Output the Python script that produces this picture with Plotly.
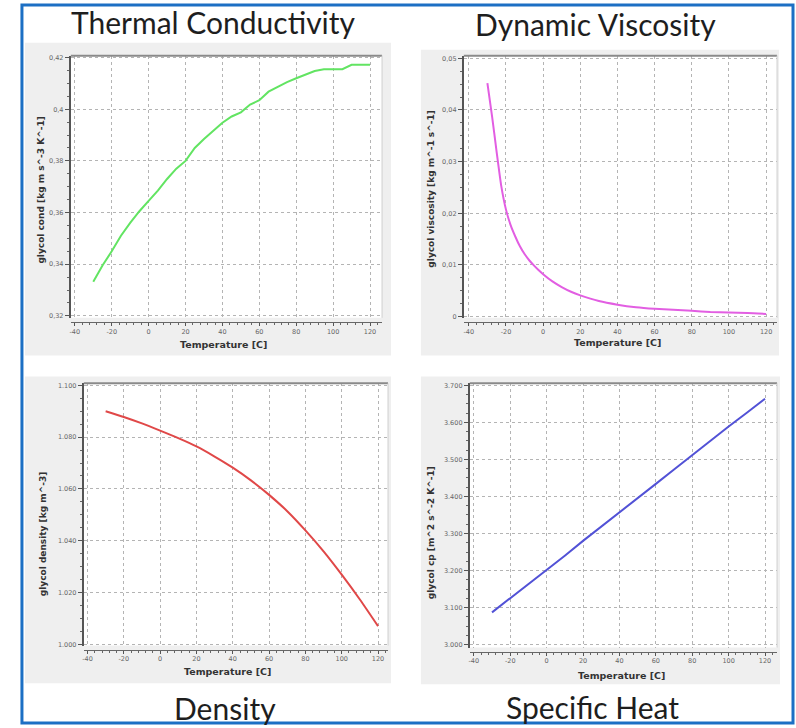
import plotly.graph_objects as go

W, H = 796, 728

# ---------------- data ----------------
TC_TEMP = [-30, -25, -20, -15, -10, -5, 0, 5, 10, 15, 20, 25, 30, 35, 40, 45, 50,
           55, 60, 65, 70, 75, 80, 85, 90, 95, 100, 105, 110, 115, 120]
TC_VALUE = [0.3332, 0.3395, 0.3450, 0.3510, 0.3560, 0.3605, 0.3645, 0.3685, 0.3730,
            0.3770, 0.3800, 0.3850, 0.3885, 0.3915, 0.3948, 0.3972, 0.3988, 0.4018,
            0.4035, 0.4068, 0.4088, 0.4105, 0.4120, 0.4135, 0.4148, 0.4155, 0.4155,
            0.4155, 0.4172, 0.4172, 0.4172]

VISC_TEMP = [-30, -27.5, -25, -22.5, -20, -17.5, -15, -12.5, -10, -7.5, -5, -2.5, 0,
             5, 10, 15, 20, 30, 40, 50, 60, 70, 80, 90, 100, 110, 120]
VISC_VALUE = [0.0452, 0.0388, 0.0318, 0.0252, 0.0207, 0.0177, 0.0155, 0.0136, 0.0121,
              0.0109, 0.0099, 0.0090, 0.0082, 0.0068, 0.0057, 0.0048, 0.0041, 0.0030,
              0.0023, 0.0018, 0.0015, 0.0013, 0.0011, 0.0009, 0.0008, 0.0007, 0.0005]

DENS_TEMP = [-30, -20, -10, 0, 10, 20, 30, 40, 50, 60, 70, 80, 90, 100, 110, 120]
DENS_VALUE = [1090.0, 1087.8, 1085.3, 1082.5, 1079.6, 1076.4, 1072.5, 1068.2, 1063.3,
              1057.7, 1051.4, 1044.0, 1035.9, 1026.9, 1017.3, 1007.0]

CP_TEMP = [-30, -20, -10, 0, 10, 20, 30, 40, 50, 60, 70, 80, 90, 100, 110, 120]
CP_VALUE = [3087, 3125, 3164, 3202, 3240, 3280, 3318, 3357, 3395, 3434, 3473, 3512,
            3550, 3589, 3626, 3664]

X_TICKS = [-40, -20, 0, 20, 40, 60, 80, 100, 120]
X_TICK_LABELS = ["-40", "-20", "0", "20", "40", "60", "80", "100", "120"]
TC_TICKS = [0.32, 0.34, 0.36, 0.38, 0.40, 0.42]
TC_TICK_LABELS = ["0,32", "0,34", "0,36", "0,38", "0,4", "0,42"]
VISC_TICKS = [0, 0.01, 0.02, 0.03, 0.04, 0.05]
VISC_TICK_LABELS = ["0", "0,01", "0,02", "0,03", "0,04", "0,05"]
DENS_TICKS = [1000, 1020, 1040, 1060, 1080, 1100]
DENS_TICK_LABELS = ["1.000", "1.020", "1.040", "1.060", "1.080", "1.100"]
CP_TICKS = [3000, 3100, 3200, 3300, 3400, 3500, 3600, 3700]
CP_TICK_LABELS = ["3.000", "3.100", "3.200", "3.300", "3.400", "3.500", "3.600", "3.700"]

TITLES = ["Thermal Conductivity", "Dynamic Viscosity", "Density", "Specific Heat"]
Y_TITLES = ["glycol cond [kg m s^-3 K^-1]", "glycol viscosity [kg m^-1 s^-1]",
            "glycol density [kg m^-3]", "glycol cp [m^2 s^-2 K^-1]"]
X_TITLE = "Temperature [C]"

# ---------------- layout helpers ----------------
def fx(px):
    return px / W


def fy(py):
    return 1 - py / H


series = [
    (TC_TEMP, TC_VALUE, "#62e462", TC_TICKS, TC_TICK_LABELS, 0.005, "linear"),
    (VISC_TEMP, VISC_VALUE, "#e25ee2", VISC_TICKS, VISC_TICK_LABELS, 0.0025, "spline"),
    (DENS_TEMP, DENS_VALUE, "#e04848", DENS_TICKS, DENS_TICK_LABELS, 5, "spline"),
    (CP_TEMP, CP_VALUE, "#5252d6", CP_TICKS, CP_TICK_LABELS, 25, "linear"),
]

# pixel geometry of each panel
panels = [
    dict(frame=(69, 381, 54, 318), xline=322, xr=(-42.16, 126.5), yr=(0.31923, 0.42077),
         bg=(23, 390, 41, 356), title=(212, 20), ytitle=(39, 189), xtitle=(222, 345)),
    dict(frame=(463, 777, 54, 318), xline=322, xr=(-42.68, 125.9), yr=(-0.00025, 0.05052),
         bg=(420, 779, 48, 356), title=(595, 22), ytitle=(430, 188), xtitle=(617, 343)),
    dict(frame=(82, 387, 384, 648), xline=652, xr=(-42.03, 125.5), yr=(999.5, 1100.77),
         bg=(23, 390, 377, 686), title=(224, 711), ytitle=(41, 535), xtitle=(226, 674)),
    dict(frame=(469, 777, 384, 650), xline=654, xr=(-42.19, 126.6), yr=(2992.0, 3705.4),
         bg=(420, 780, 377, 687), title=(592, 710), ytitle=(430, 534), xtitle=(621, 678)),
]

fig = go.Figure()
shapes = []
annotations = []
layout = {}

TICK_FONT = dict(family="DejaVu Sans", size=6.5, color="#666666")

for i, ((xs, ys, color, yt, ytl, ymin, shape), p) in enumerate(zip(series, panels), start=1):
    sfx = "" if i == 1 else str(i)
    fig.add_trace(go.Scatter(x=xs, y=ys, mode="lines",
                             line=dict(color=color, width=2, shape=shape, smoothing=0.6),
                             xaxis="x" + sfx, yaxis="y" + sfx, showlegend=False,
                             hoverinfo="x+y"))
    l, r, t, b = p["frame"]
    layout["xaxis" + sfx] = dict(
        domain=[fx(l), fx(r)], range=list(p["xr"]), anchor="free", position=fy(p["xline"]),
        tickmode="array", tickvals=X_TICKS, ticktext=X_TICK_LABELS,
        showgrid=True, gridcolor="#b4b4b4", griddash="dot", gridwidth=1,
        zeroline=False, showline=True, linecolor="#666666", linewidth=1,
        ticks="outside", ticklen=3, tickcolor="#555555", tickfont=TICK_FONT,
        minor=dict(tickmode="linear", tick0=-40, dtick=4, ticks="outside", ticklen=2,
                   tickcolor="#666666", showgrid=False),
        fixedrange=True,
    )
    layout["yaxis" + sfx] = dict(
        domain=[fy(b), fy(t)], range=list(p["yr"]), anchor="x" + sfx,
        tickmode="array", tickvals=yt, ticktext=ytl,
        showgrid=True, gridcolor="#b4b4b4", griddash="dot", gridwidth=1,
        zeroline=False, showline=True, linecolor="#555555", linewidth=2,
        ticks="outside", ticklen=4, tickcolor="#555555", tickfont=TICK_FONT,
        minor=dict(tickmode="linear", tick0=yt[0], dtick=ymin, ticks="outside", ticklen=2,
                   tickcolor="#666666", showgrid=False),
        fixedrange=True,
    )
    # grey panel background
    bl, br, bt, bb = p["bg"]
    shapes.append(dict(type="rect", xref="paper", yref="paper", x0=fx(bl), x1=fx(br),
                       y0=fy(bb), y1=fy(bt), fillcolor="#efefef", line=dict(width=0),
                       layer="below"))
    # white plot area
    shapes.append(dict(type="rect", xref="paper", yref="paper", x0=fx(l), x1=fx(r),
                       y0=fy(b), y1=fy(t), fillcolor="#ffffff", line=dict(width=0),
                       layer="below"))
    # frame top / right
    shapes.append(dict(type="line", xref="paper", yref="paper", x0=fx(l), x1=fx(r),
                       y0=fy(t), y1=fy(t), line=dict(color="#8a8a8a", width=2)))
    shapes.append(dict(type="line", xref="paper", yref="paper", x0=fx(r), x1=fx(r),
                       y0=fy(b), y1=fy(t), line=dict(color="#cfcfcf", width=1)))
    # titles
    tx, ty = p["title"]
    annotations.append(dict(text=TITLES[i - 1], x=fx(tx), y=fy(ty), xref="paper",
                            yref="paper", xanchor="center", yanchor="middle",
                            showarrow=False,
                            font=dict(family="Lato", size=30, color="#1e1e1e")))
    yx, yy = p["ytitle"]
    annotations.append(dict(text="<b>" + Y_TITLES[i - 1] + "</b>", x=fx(yx), y=fy(yy),
                            xref="paper", yref="paper", xanchor="center",
                            yanchor="middle", textangle=-90, showarrow=False,
                            font=dict(family="DejaVu Sans", size=9, color="#333333")))
    xx, xy = p["xtitle"]
    annotations.append(dict(text="<b>" + X_TITLE + "</b>", x=fx(xx), y=fy(xy),
                            xref="paper", yref="paper", xanchor="center",
                            yanchor="middle", showarrow=False,
                            font=dict(family="DejaVu Sans", size=9.5, color="#333333")))

# blue outer border
shapes.append(dict(type="rect", xref="paper", yref="paper", x0=fx(20), x1=fx(793),
                   y0=fy(726), y1=fy(3), line=dict(color="#1c6fc4", width=3),
                   fillcolor="rgba(0,0,0,0)", layer="above"))

fig.update_layout(
    width=W, height=H, margin=dict(l=0, r=0, t=0, b=0),
    paper_bgcolor="#ffffff", plot_bgcolor="rgba(0,0,0,0)",
    shapes=shapes, annotations=annotations, showlegend=False,
    **layout,
)

fig.write_html("out.html", config={"displayModeBar": False},
               post_script="document.body.style.margin='0px';"
                           "document.body.style.overflow='hidden';")
